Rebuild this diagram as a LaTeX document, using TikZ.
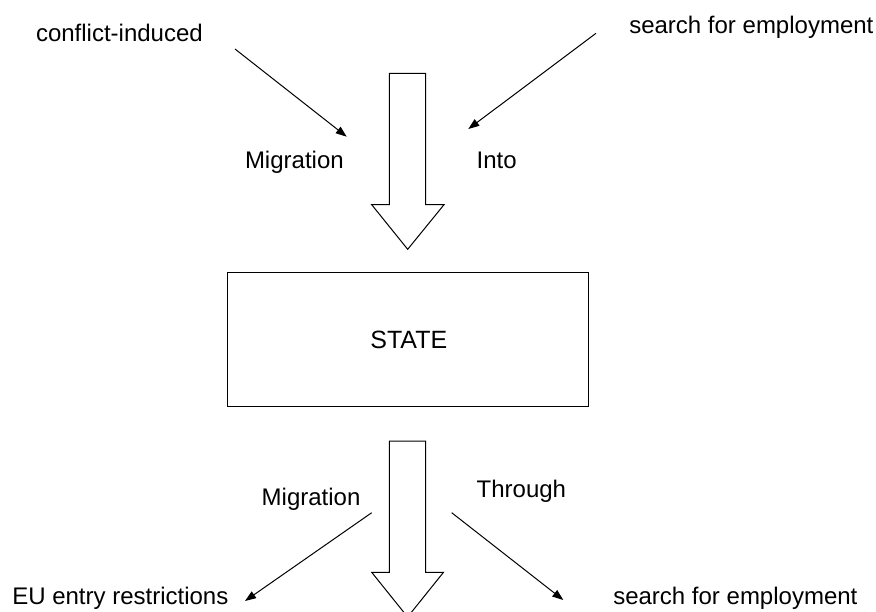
\documentclass[tikz,border=0pt]{standalone}
\usepackage{fontspec}
\setmainfont{Liberation Sans}
\usetikzlibrary{arrows.meta}
\begin{document}
\begin{tikzpicture}[x=1pt,y=-1pt,
  lbl/.style={inner sep=0pt,outer sep=0pt,font=\fontsize{24}{28}\selectfont},
  conn/.style={line width=1pt,-{Triangle[length=11pt,width=8pt]}},
  hollow/.style={draw=black,line width=1pt,fill=white,line join=miter}]
\useasboundingbox (0,0) rectangle (876,611);
% labels
\node[lbl,anchor=base west] (ci) at (36,41.7) {conflict-induced};
\node[lbl,anchor=base west] (se1) at (629.3,33.3) {search for employment};
\node[lbl,anchor=base west] (mig1) at (245,168.3) {Migration};
\node[lbl,anchor=base west] (into) at (476.7,168.3) {Into};
\node[lbl,anchor=base west] (mig2) at (261.7,505) {Migration};
\node[lbl,anchor=base west] (thr) at (476.7,497) {Through};
\node[lbl,anchor=base west] (eu) at (12.3,604.5) {EU entry restrictions};
\node[lbl,anchor=base west] (se2) at (613.3,604.5) {search for employment};
% state box
\node[draw=black,line width=1pt,minimum width=360.6pt,minimum height=134pt,inner sep=0pt] (state) at (408,339.7) {};
\node[inner sep=0pt,font=\fontsize{25}{30}\selectfont,anchor=base] (statetxt) at (408.8,348.3) {STATE};
% hollow arrows
\draw[hollow] (389.3,73.3) -- (425.7,73.3) -- (425.7,204.7) -- (444,204.7) -- (407.7,249.3) -- (371.7,204.7) -- (389.3,204.7) -- cycle;
\draw[hollow] (389.3,441) -- (425.7,441) -- (425.7,572.3) -- (443.5,572.3) -- (407.6,617) -- (371.7,572.3) -- (389.3,572.3) -- cycle;
% thin arrows
\coordinate (a1s) at (235,49);
\coordinate (a1e) at (346.7,136.7);
\coordinate (a2s) at (596,33.3);
\coordinate (a2e) at (468.3,129);
\coordinate (a3s) at (371.7,512.7);
\coordinate (a3e) at (245,601);
\coordinate (a4s) at (451.7,512.7);
\coordinate (a4e) at (563.3,600);
\draw[conn] (a1s) -- (a1e);
\draw[conn] (a2s) -- (a2e);
\draw[conn] (a3s) -- (a3e);
\draw[conn] (a4s) -- (a4e);
\end{tikzpicture}
\end{document}
